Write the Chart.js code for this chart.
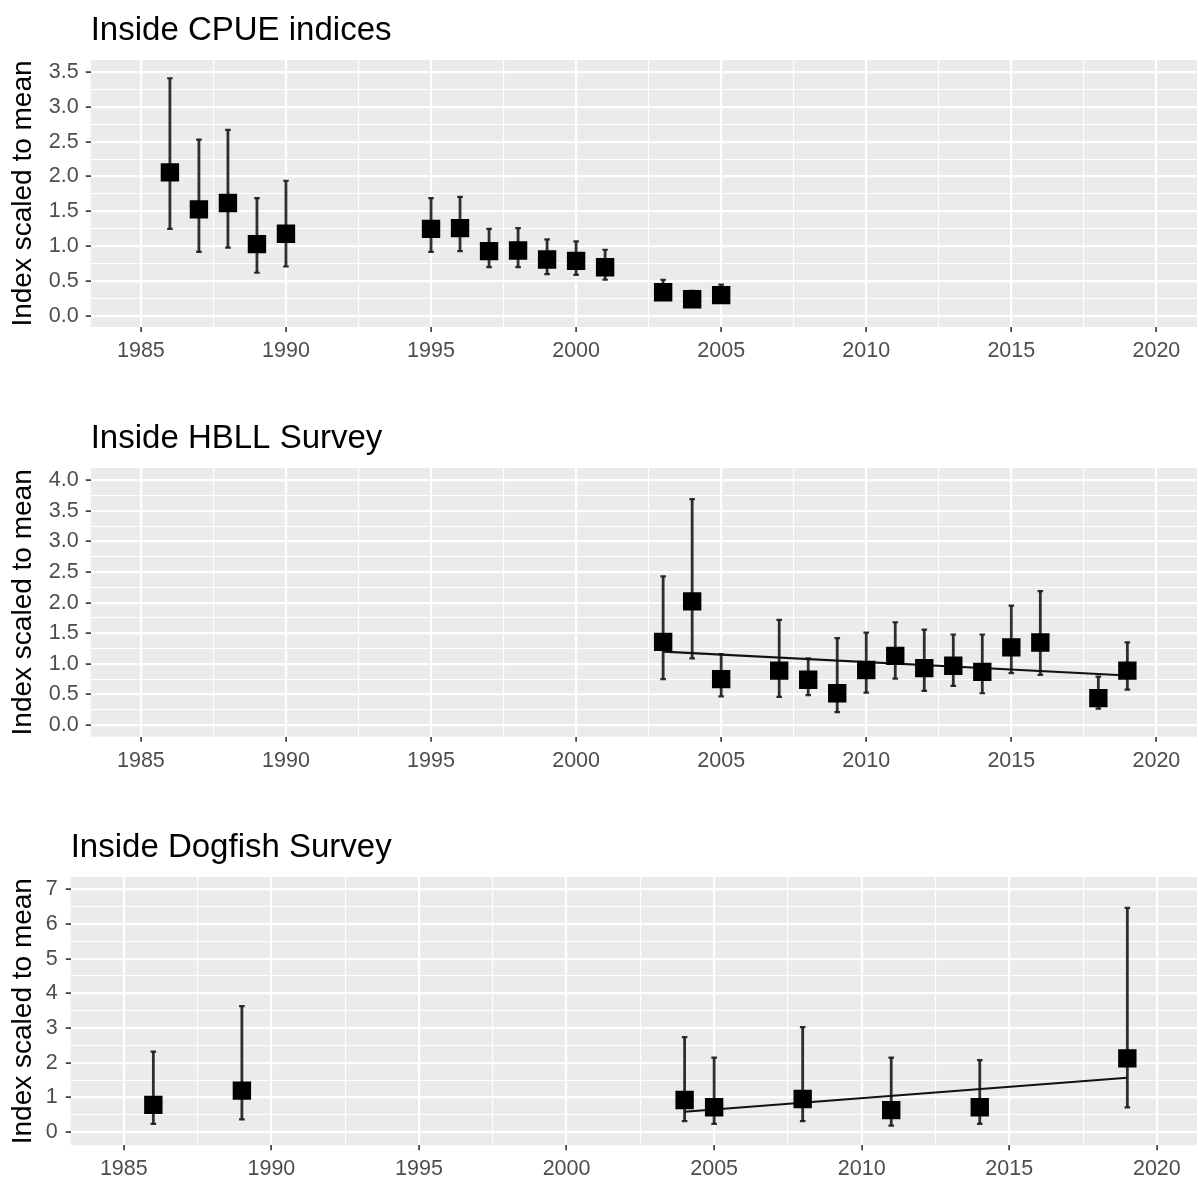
<!DOCTYPE html>
<html><head><meta charset="utf-8">
<script src="https://cdn.jsdelivr.net/npm/chart.js@4.4.0/dist/chart.umd.min.js"></script>
<style>
html,body{margin:0;padding:0;background:#fff;overflow:hidden;width:1198px;height:1179px;}
.panel{position:absolute;left:0;}
canvas{display:block;}
</style></head><body>
<div class="panel" style="top:0px"><canvas id="c1" width="1198" height="380"></canvas></div>
<div class="panel" style="top:408px"><canvas id="c2" width="1198" height="380"></canvas></div>
<div class="panel" style="top:817px"><canvas id="c3" width="1198" height="362"></canvas></div>
<script>
// ---- data ----
const xMajorTicks = [1985,1990,1995,2000,2005,2010,2015,2020];

const cpueYears = [1986,1987,1988,1989,1990,1995,1996,1997,1998,1999,2000,2001,2003,2004,2005];
const cpueIndex = [2.06,1.53,1.62,1.03,1.18,1.25,1.26,0.93,0.94,0.81,0.79,0.70,0.34,0.24,0.30];
const cpueLower = [1.25,0.92,0.98,0.62,0.71,0.92,0.93,0.70,0.70,0.60,0.59,0.52,0.25,0.17,0.22];
const cpueUpper = [3.41,2.53,2.67,1.69,1.94,1.69,1.71,1.25,1.26,1.10,1.07,0.95,0.52,0.36,0.45];
const cpueYTicks = [0,0.5,1,1.5,2,2.5,3,3.5];

const hbllYears = [2003,2004,2005,2007,2008,2009,2010,2011,2012,2013,2014,2015,2016,2018,2019];
const hbllIndex = [1.36,2.02,0.75,0.89,0.74,0.52,0.90,1.13,0.93,0.97,0.87,1.27,1.35,0.44,0.89];
const hbllLower = [0.75,1.09,0.47,0.46,0.49,0.21,0.53,0.76,0.56,0.64,0.52,0.85,0.82,0.27,0.58];
const hbllUpper = [2.43,3.69,1.16,1.72,1.09,1.42,1.51,1.68,1.56,1.48,1.48,1.95,2.19,0.79,1.35];
const hbllTrendYears = [2003,2019];
const hbllTrend = [1.20,0.81];
const hbllYTicks = [0,0.5,1,1.5,2,2.5,3,3.5,4];

const dogYears = [1986,1989,2004,2005,2008,2011,2014,2019];
const dogIndex = [0.79,1.20,0.93,0.72,0.96,0.64,0.72,2.13];
const dogLower = [0.24,0.37,0.32,0.24,0.32,0.19,0.24,0.72];
const dogUpper = [2.32,3.63,2.74,2.15,3.03,2.15,2.08,6.46];
const dogTrendYears = [2004,2019];
const dogTrend = [0.59,1.57];
const dogYTicks = [0,1,2,3,4,5,6,7];

// ---- helpers ----
const FONT = "'Liberation Sans', Arial, Helvetica, sans-serif";
function withMinors(majors){
  const out = [];
  const step = majors[1]-majors[0];
  out.push(majors[0]-step/2);
  majors.forEach(v=>{ out.push(v); out.push(v+step/2); });
  return out;
}
function isIn(arr, v){ return arr.some(a => Math.abs(a-v) < 1e-9); }

const panelBg = {
  id:'panelBg',
  beforeDraw(chart){
    const {ctx, chartArea:a} = chart;
    ctx.save(); ctx.fillStyle = '#EBEBEB';
    ctx.fillRect(a.left, a.top, a.right-a.left, a.bottom-a.top);
    ctx.restore();
  }
};
const errBars = {
  id:'errBars',
  beforeDatasetsDraw(chart, args, o){
    const {ctx, scales:{x,y}} = chart;
    ctx.save();
    ctx.strokeStyle = o.color; ctx.lineCap='butt';
    o.years.forEach((yr,i)=>{
      const px = x.getPixelForValue(yr);
      const pl = y.getPixelForValue(o.lower[i]);
      const pu = y.getPixelForValue(o.upper[i]);
      ctx.lineWidth = o.width;
      ctx.beginPath();
      ctx.moveTo(px,pl); ctx.lineTo(px,pu);
      ctx.stroke();
      ctx.lineWidth = o.capWidth;
      ctx.beginPath();
      ctx.moveTo(px-o.cap,pu); ctx.lineTo(px+o.cap,pu);
      ctx.moveTo(px-o.cap,pl); ctx.lineTo(px+o.cap,pl);
      ctx.stroke();
    });
    ctx.restore();
  }
};

function makeChart(id, p){
  const yAll = withMinors(p.yTicks).filter(v => v >= p.yMin && v <= p.yMax);
  const xAll = withMinors(xMajorTicks).filter(v => v >= p.xMin && v <= p.xMax);
  const datasets = [];
  if (p.trendYears){
    datasets.push({type:'line', data:p.trendYears.map((yr,i)=>({x:yr,y:p.trend[i]})),
      borderColor:'#111', borderWidth:2.1, pointRadius:0, fill:false, tension:0, order:2});
  }
  datasets.push({type:'scatter', data:p.years.map((yr,i)=>({x:yr,y:p.index[i]})),
    pointStyle:'rect', pointRadius:13, pointHoverRadius:13, backgroundColor:'#000', borderWidth:0, order:1});
  return new Chart(document.getElementById(id), {
    type:'scatter',
    data:{datasets},
    plugins:[panelBg, errBars],
    options:{
      responsive:false, animation:false, devicePixelRatio:1,
      events:[],
      layout:{autoPadding:false, padding:{left:0,right:1,top:0,bottom:0}},
      plugins:{
        legend:{display:false}, tooltip:{enabled:false},
        title:{display:true, text:p.title, align:'start', fullSize:false, color:'#000',
          font:{family:FONT, size:33, weight:'normal', lineHeight:1.2},
          padding:{top:11, bottom:9.4}},
        errBars:{years:p.years, lower:p.lower, upper:p.upper, color:'rgba(25,25,25,0.9)', width:2.8, capWidth:2.2, cap:2.8}
      },
      scales:{
        x:{type:'linear', min:p.xMin, max:p.xMax,
          afterBuildTicks:s=>{ s.ticks = xAll.map(v=>({value:v})); },
          afterFit:s=>{ s.height = p.xAxisH; s.paddingLeft = 0; s.paddingRight = 0; },
          ticks:{autoSkip:false, maxRotation:0, color:'#4D4D4D', padding:6,
            font:{family:FONT, size:21.5},
            callback:v => isIn(xMajorTicks, v) ? String(v) : ''},
          grid:{color:'#FFFFFF', lineWidth:c => isIn(xMajorTicks, c.tick.value) ? 2.2 : 1.1,
            tickColor:c => isIn(xMajorTicks, c.tick.value) ? '#333333' : 'rgba(0,0,0,0)',
            tickLength:5, tickWidth:1.6, drawTicks:true},
          border:{display:false}
        },
        y:{type:'linear', min:p.yMin, max:p.yMax,
          afterBuildTicks:s=>{ s.ticks = yAll.map(v=>({value:v})); },
          afterFit:s=>{ s.width = p.yAxisW; s.paddingTop = 0; s.paddingBottom = 0; },
          ticks:{autoSkip:false, color:'#4D4D4D', padding:p.yPad,
            font:{family:FONT, size:21.5},
            callback:v => isIn(p.yTicks, v) ? v.toFixed(p.dec) : ''},
          grid:{color:'#FFFFFF', lineWidth:c => isIn(p.yTicks, c.tick.value) ? 2.2 : 1.1,
            tickColor:c => isIn(p.yTicks, c.tick.value) ? '#333333' : 'rgba(0,0,0,0)',
            tickLength:5, tickWidth:1.6, drawTicks:true},
          border:{display:false},
          title:{display:true, text:'Index scaled to mean', color:'#000',
            font:{family:FONT, size:28, weight:'normal', lineHeight:1.2},
            padding:{top:6, bottom:0}}
        }
      }
    }
  });
}

makeChart('c1', {title:'Inside CPUE indices', years:cpueYears, index:cpueIndex, lower:cpueLower, upper:cpueUpper,
  yTicks:cpueYTicks, yMin:-0.158, yMax:3.672, dec:1, xMin:1983.27, xMax:2021.4, xAxisH:53, yAxisW:90.7, yPad:7});
makeChart('c2', {title:'Inside HBLL Survey', years:hbllYears, index:hbllIndex, lower:hbllLower, upper:hbllUpper,
  trendYears:hbllTrendYears, trend:hbllTrend,
  yTicks:hbllYTicks, yMin:-0.19, yMax:4.20, dec:1, xMin:1983.27, xMax:2021.4, xAxisH:51.3, yAxisW:90.7, yPad:7});
makeChart('c3', {title:'Inside Dogfish Survey', years:dogYears, index:dogIndex, lower:dogLower, upper:dogUpper,
  trendYears:dogTrendYears, trend:dogTrend,
  yTicks:dogYTicks, yMin:-0.374, yMax:7.35, dec:0, xMin:1983.2, xMax:2021.36, xAxisH:33.7, yAxisW:70.7, yPad:8});
</script>
</body></html>
